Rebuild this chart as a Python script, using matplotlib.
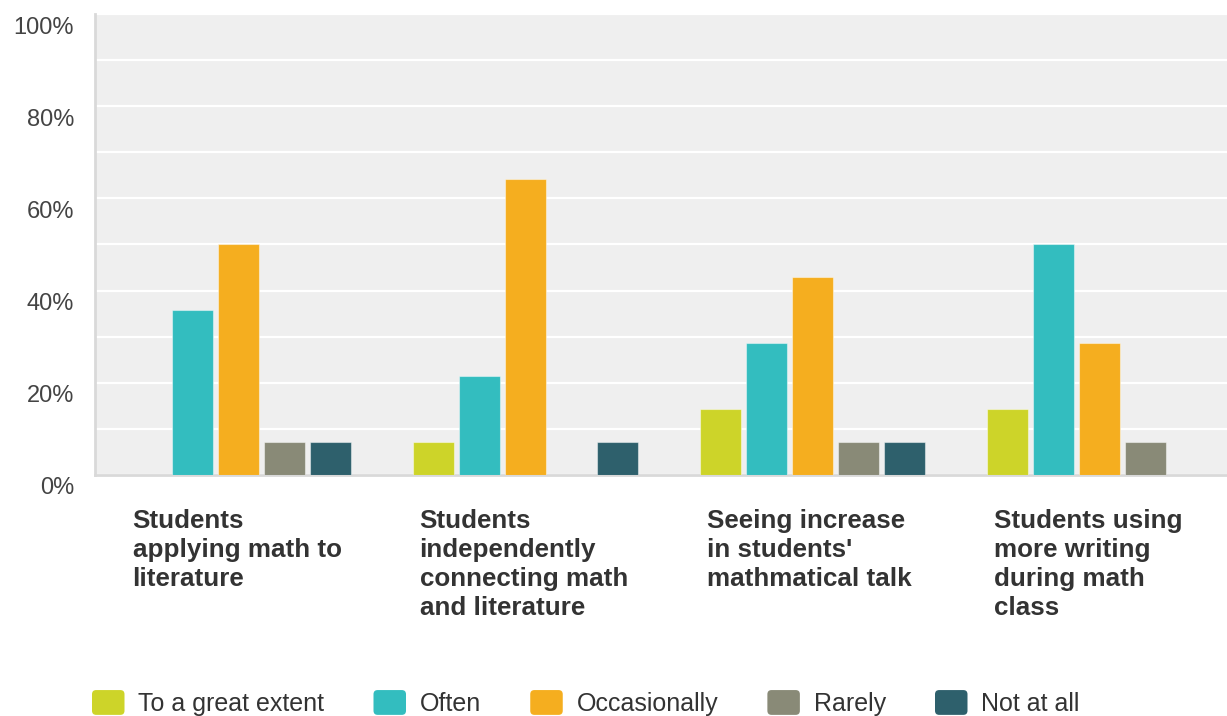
import numpy as np
import matplotlib
matplotlib.use("Agg")
import matplotlib.pyplot as plt
from matplotlib.patches import FancyBboxPatch
from matplotlib.legend_handler import HandlerBase
from matplotlib.transforms import ScaledTranslation, blended_transform_factory

categories = [
    "Students\napplying math to\nliterature",
    "Students\nindependently\nconnecting math\nand literature",
    "Seeing increase\nin students'\nmathmatical talk",
    "Students using\nmore writing\nduring math\nclass",
]
responses = ["To a great extent", "Often", "Occasionally", "Rarely", "Not at all"]

# percent of respondents per answer, one list per category
applying = [0.0, 35.7, 50.0, 7.1, 7.1]
connecting = [7.1, 21.4, 64.3, 0.0, 7.1]
talk = [14.3, 28.6, 42.9, 7.1, 7.1]
writing = [14.3, 50.0, 28.6, 7.1, 0.0]

colors = ["#cdd429", "#33bdbf", "#f5ae1f", "#898a77", "#2e606c"]

values = np.array([applying, connecting, talk, writing])

plt.rcParams["font.family"] = ["Liberation Sans", "DejaVu Sans"]

W, H = 1227, 716
fig = plt.figure(figsize=(W / 100, H / 100), dpi=100)
# plot area runs a bit past the right edge of the canvas
ax = fig.add_axes([95 / W, 1 - 475 / H, (1243 - 95) / W, (475 - 14) / H])
ax.set_facecolor("#efefef")

x = np.arange(len(categories))
step = 0.16
width = 0.143
for i, (resp, col) in enumerate(zip(responses, colors)):
    ax.bar(x + (i - 2) * step, values[:, i], width, color=col, label=resp,
           edgecolor=(1, 1, 1, 0.45), linewidth=0.8, zorder=3)

ax.set_xlim(-0.5, 3.5)
ax.set_ylim(0, 100)
ax.set_yticks(np.arange(0, 101, 20))
ax.set_yticks(np.arange(0, 101, 10), minor=True)
ax.set_yticklabels([f"{v}%" for v in range(0, 101, 20)], fontsize=17, color="#444444")
ax.tick_params(axis="y", which="both", length=0, pad=15)
ax.set_xticks([])
ax.yaxis.grid(True, which="both", color="white", linewidth=1.6, zorder=1)
ax.set_axisbelow(True)

# push the percent labels a little below their gridlines
off = ScaledTranslation(0, -11 / 100, fig.dpi_scale_trans)
for lbl in ax.get_yticklabels():
    lbl.set_transform(lbl.get_transform() + off)

for side in ["top", "right"]:
    ax.spines[side].set_visible(False)
for side in ["left", "bottom"]:
    ax.spines[side].set_color("#d9d9d9")
    ax.spines[side].set_linewidth(2)

# category names under each group, left aligned
trans = blended_transform_factory(ax.transData, ax.transAxes)
for xi, name in zip(x, categories):
    ax.text(xi - 0.369, -0.073, name, transform=trans, ha="left", va="top",
            fontsize=18.7, fontweight="bold", color="#333333", linespacing=1.27)


class RoundBox(HandlerBase):
    def create_artists(self, legend, orig_handle, xdescent, ydescent, width, height, fontsize, trans):
        face = orig_handle.patches[0].get_facecolor()
        p = FancyBboxPatch((-xdescent, -ydescent), width, height,
                           boxstyle="round,pad=0,rounding_size=3",
                           facecolor=face, edgecolor="none", transform=trans)
        return [p]


handles, labels = ax.get_legend_handles_labels()
fig.legend(handles, labels, loc="center left", bbox_to_anchor=(92 / W, 1 - 703 / H),
           ncol=5, frameon=False, fontsize=18, borderpad=0, borderaxespad=0,
           handlelength=1.3, handleheight=1.15, handletextpad=0.55, columnspacing=1.97,
           handler_map={h: RoundBox() for h in handles}, labelcolor="#333333")

fig.savefig("out.png", dpi=100)
